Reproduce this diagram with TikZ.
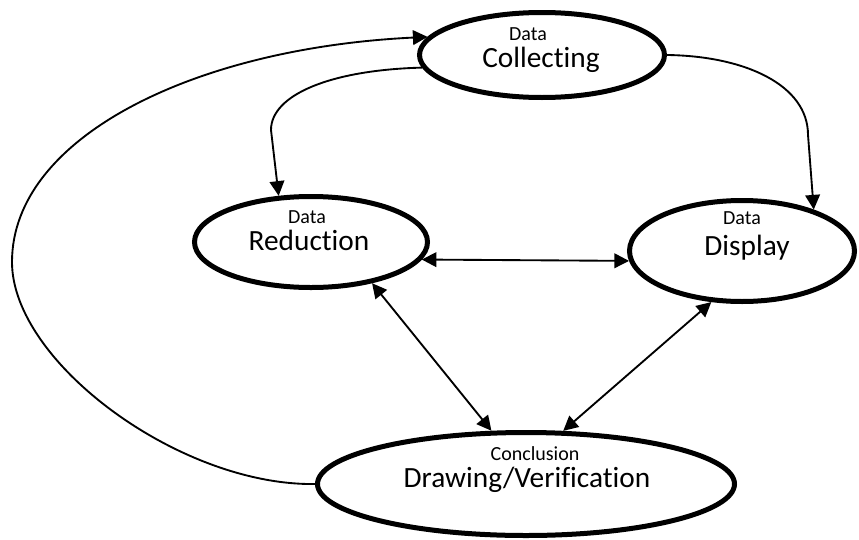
\documentclass[tikz,border=0pt]{standalone}
\usepackage{fontspec}
\setmainfont{Carlito}[Ligatures=CommonOff]
\usetikzlibrary{shapes.geometric,arrows.meta}
\tikzset{
  stage/.style={ellipse, draw, line width=3.75pt, inner sep=0pt},
  small/.style={anchor=base, inner sep=0pt, font=\fontsize{15}{18}\selectfont},
  big/.style={anchor=base, inner sep=0pt, font=\fontsize{22}{26}\selectfont},
  link/.style={line width=1.4pt},
  >={Triangle[length=11pt,width=11pt]}
}
\begin{document}
\begin{tikzpicture}[x=0.75pt,y=0.75pt,yscale=-1,xscale=1]
\useasboundingbox (0,0) rectangle (859,539);

%Shape: Ellipse [id:collecting]
\node [stage, minimum width=183.75pt, minimum height=63.75pt] (col) at (542,55) {};
%Shape: Ellipse [id:reduction]
\node [stage, minimum width=174.75pt, minimum height=68.25pt] (red) at (311,242) {};
%Shape: Ellipse [id:display]
\node [stage, minimum width=168.75pt, minimum height=75.75pt] (dis) at (742,251) {};
%Shape: Ellipse [id:conclusion]
\node [stage, minimum width=312.75pt, minimum height=77.25pt] (con) at (526,484) {};

% Text Node
\node [small] (colA) at (528,40) {Data};
\node [big] (colB) at (541,67) {Collecting};
% Text Node
\node [small] (redA) at (307,223) {Data};
\node [big] (redB) at (309,250) {Reduction};
% Text Node
\node [small] (disA) at (742,224) {Data};
\node [big] (disB) at (747,255) {Display};
% Text Node
\node [small] (conA) at (535,460) {Conclusion};
\node [big] (conB) at (527,487) {Drawing/Verification};

%Curve Lines [id:loop]
\coordinate (loopL) at (12,262);
\draw [link, ->] (con.west) .. controls (180,486) and (12,362) .. (loopL) .. controls (12,137) and (195,48) .. (col.171);
%Curve Lines [id:toreduction]
\coordinate (redknee) at (271,130);
\draw [link, ->] (col.186) .. controls (330,70) and (271,95) .. (redknee) -- (red.125);
%Curve Lines [id:todisplay]
\coordinate (disknee) at (808,135);
\draw [link, ->] (col.east) .. controls (745,56) and (808,85) .. (disknee) -- (dis.30);
%Straight Lines
\draw [link, <->] (red.-9) -- (dis.185);
\draw [link, <->] (red.-34) -- (con.123);
\draw [link, <->] (dis.239) -- (con.55);

\end{tikzpicture}
\end{document}
